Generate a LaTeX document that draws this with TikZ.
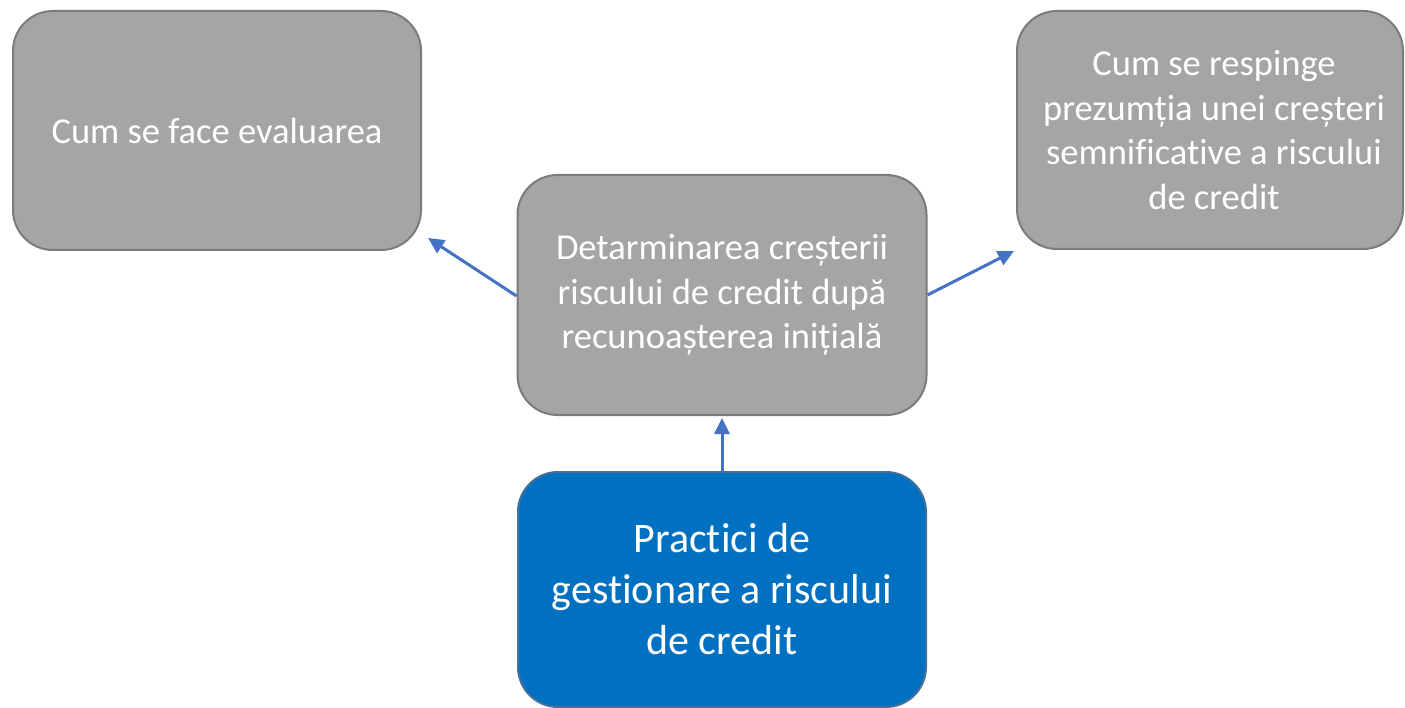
\documentclass[tikz,border=0pt]{standalone}
\usepackage{fontspec}
\setmainfont{Carlito}[Ligatures=NoCommon]
\usetikzlibrary{arrows.meta,calc}
\definecolor{boxgray}{HTML}{A5A5A5}
\definecolor{bordergray}{HTML}{7B7B7B}
\definecolor{boxblue}{HTML}{0070C0}
\definecolor{borderblue}{HTML}{41719C}
\definecolor{arrowblue}{HTML}{4472C4}
\begin{document}
\begin{tikzpicture}[x=1pt,y=-1pt,
  graybox/.style={draw=bordergray, fill=boxgray, line width=2pt, rounded corners=40pt,
    text=white, align=center, inner sep=0pt,
    font=\fontsize{36.5}{44.5}\selectfont},
  bluebox/.style={draw=borderblue, fill=boxblue, line width=2pt, rounded corners=40pt,
    text=white, align=center, inner sep=0pt,
    font=\fontsize{42}{51}\selectfont},
  conn/.style={draw=arrowblue, line width=3pt, -{Triangle[length=16pt,width=15pt]}}]
\useasboundingbox (0,0) rectangle (1405,708);
\begin{scope}
\clip (0,0) rectangle (1405,708);
\node[graybox, minimum width=408pt, minimum height=239pt] (L) at (217,130.5) {Cum se face evaluarea};
\node[graybox, minimum width=386pt, minimum height=238pt, text depth=0pt] (R) at (1210,130) {\hspace*{8pt}Cum se respinge\\\hspace*{8pt}prezumția unei creșteri\\\hspace*{8pt}semnificative a riscului\\\hspace*{8pt}de credit};
\node[graybox, minimum width=409pt, minimum height=240pt] (C) at (722,295) {Detarminarea creșterii\\riscului de credit după\\recunoașterea inițială};
\node[bluebox, minimum width=408pt, minimum height=235pt] (B) at (722,589.5) {Practici de\\gestionare a riscului\\de credit};
\end{scope}
\coordinate (lt) at ($(L.south east)+(6,-13)$);
\coordinate (rt) at ($(R.south west)+(-2,1)$);
\coordinate (ct) at ($(C.south)+(0,2)$);
\path[conn] ($(C.west)+(0,1)$) -- (lt);
\path[conn] (C.east) -- (rt);
\path[conn] (B.north) -- (ct);
\end{tikzpicture}
\end{document}
